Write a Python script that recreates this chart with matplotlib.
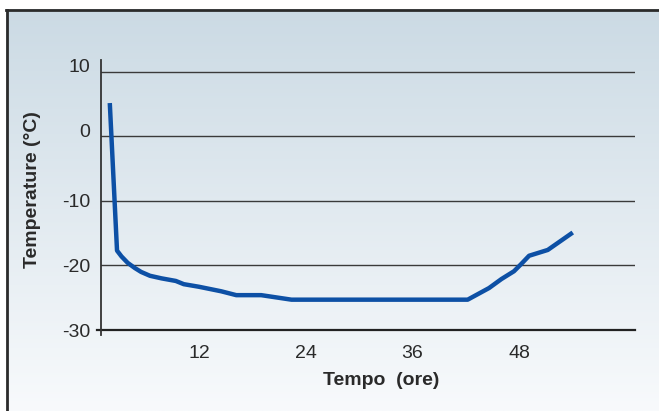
import numpy as np
import matplotlib
matplotlib.use("Agg")
import matplotlib.pyplot as plt
from matplotlib.transforms import ScaledTranslation

plt.rcParams['font.family'] = ['Liberation Sans', 'DejaVu Sans']
plt.rcParams['axes.unicode_minus'] = False

# data
hours = [2, 2.8, 3.3, 4, 4.8, 5.5, 6.5, 7.8, 9.4, 10.3, 12, 14.5, 16.2, 19,
         22.4, 30, 42.2, 44.6, 46, 47.4, 48.2, 49.1, 51.2, 53.8]
temps = [4.8, -17.7, -18.6, -19.6, -20.4, -21.0, -21.6, -22.0, -22.4, -22.9,
         -23.3, -24.0, -24.6, -24.6, -25.3, -25.3, -25.3, -23.5, -22.1, -20.9,
         -19.8, -18.5, -17.6, -15.1]
x_ticks = [12, 24, 36, 48]
y_ticks = [10, 0, -10, -20, -30]

W, H = 659, 411
fig = plt.figure(figsize=(W / 100, H / 100), dpi=100, facecolor='white')

# gradient panel behind the chart
bg = fig.add_axes([6 / W, 0, 1 - 6 / W, (H - 9) / H])
top = np.array([203, 218, 228]) / 255
bot = np.array([248, 250, 252]) / 255
t = np.linspace(0, 1, 256)[:, None, None]
grad = top * (1 - t) + bot * t
bg.imshow(np.repeat(grad, 2, axis=1), aspect='auto', extent=[0, 1, 0, 1])
bg.axis('off')
# frame lines (top and left only)
fig.add_artist(plt.Line2D([6 / W, 1], [(H - 10) / H] * 2, color='#2b2b2b', lw=2))
fig.add_artist(plt.Line2D([7 / W] * 2, [0, (H - 10) / H], color='#2b2b2b', lw=2))

ax = fig.add_axes([101 / W, (H - 335) / H, 534 / W, 275 / H])
ax.set_facecolor('none')
ax.set_xlim(1, 61)
ax.set_ylim(-30.77, 11.81)
for s in ['top', 'right', 'bottom']:
    ax.spines[s].set_visible(False)
ax.spines['left'].set_color('#333333')
ax.spines['left'].set_linewidth(1.3)

for v in y_ticks[:-1]:
    ax.axhline(v, color='#3a3a3a', lw=1.0, zorder=1)
ax.axhline(-30, xmin=-0.008, xmax=1, color='#222222', lw=1.6, clip_on=False, zorder=1)

ax.plot(hours, temps, color='#0d50a5', lw=3.2, solid_joinstyle='round', zorder=3)

ax.set_xticks(x_ticks)
ax.set_yticks(y_ticks)
ax.tick_params(axis='both', length=0, labelsize=14, colors='#2a2a2a')
ax.tick_params(axis='y', pad=8)
ax.tick_params(axis='x', pad=7)
# the top two y labels sit a little above their lines
for lab, v in zip(ax.get_yticklabels(), y_ticks):
    if v >= 0:
        lab.set_transform(lab.get_transform() + ScaledTranslation(0, 6 / 100, fig.dpi_scale_trans))

fig.text(33 / W, 1 - 190 / H, 'Temperature (°C)', rotation=90, ha='center', va='center',
         fontsize=14, fontweight='bold', color='#2a2a2a')
fig.text(381 / W, 1 - 380 / H, 'Tempo  (ore)', ha='center', va='center',
         fontsize=14, fontweight='bold', color='#2a2a2a')

fig.savefig('out.png', dpi=100)
